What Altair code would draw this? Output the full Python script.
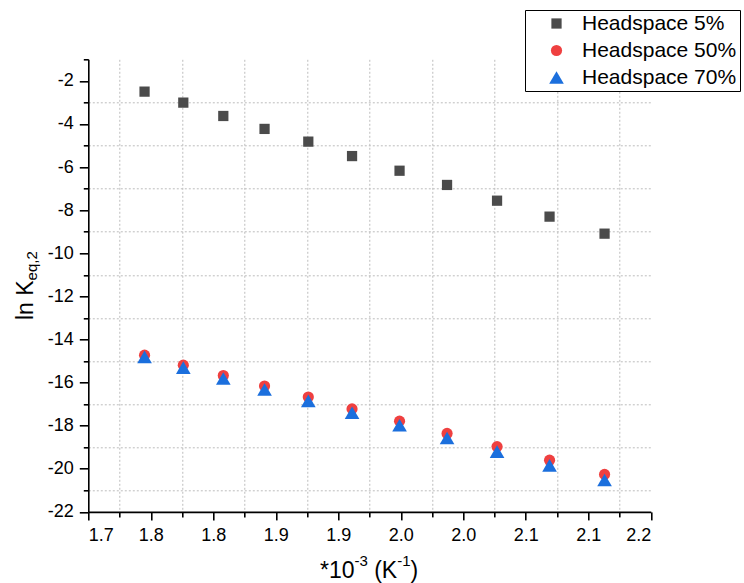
import altair as alt
import pandas as pd

# ---- data ----
x_vals = [1.745, 1.776, 1.808, 1.841, 1.876, 1.911, 1.949, 1.987, 2.027, 2.069, 2.113]
y_5 = [-2.50, -3.01, -3.63, -4.23, -4.82, -5.49, -6.17, -6.83, -7.56, -8.30, -9.09]
y_50 = [-14.73, -15.19, -15.67, -16.16, -16.67, -17.22, -17.79, -18.36, -18.97, -19.60, -20.26]
y_70 = [-14.81, -15.31, -15.81, -16.32, -16.85, -17.40, -17.98, -18.57, -19.20, -19.84, -20.52]

series_names = ["Headspace 5%", "Headspace 50%", "Headspace 70%"]
series_colors = ["#4b4b4b", "#ef4040", "#1b6fdd"]
series_shapes = ["square", "circle", "triangle-up"]
series_sizes = [105, 125, 215]

x_major = [1.70, 1.75, 1.80, 1.85, 1.90, 1.95, 2.00, 2.05, 2.10, 2.15]
x_minor = [1.725, 1.775, 1.825, 1.875, 1.925, 1.975, 2.025, 2.075, 2.125]
y_major = [-22, -20, -18, -16, -14, -12, -10, -8, -6, -4, -2]
y_minor = [-21, -19, -17, -15, -13, -11, -9, -7, -5, -3, -1]

rows = []
for name, ys in zip(series_names, [y_5, y_50, y_70]):
    for xv, yv in zip(x_vals, ys):
        rows.append({"x": xv, "y": yv, "series": name})
df = pd.DataFrame(rows)

FONT = "Liberation Sans"
W, H = 562.5, 452.6
PL, PT = 88.3, 59.3

xs = alt.Scale(domain=[1.70, 2.15], nice=False, zero=False)
ys = alt.Scale(domain=[-22, -1], nice=False, zero=False)

minor_x_axis = alt.Axis(orient="bottom", values=x_minor, labels=False, title=None,
                        domain=False, ticks=True, tickSize=5, tickWidth=1.6, tickColor="black",
                        grid=True, gridColor="#bdbdbd", gridDash=[2, 2], gridWidth=1)
minor_y_axis = alt.Axis(orient="left", values=y_minor, labels=False, title=None,
                        domain=False, ticks=True, tickSize=5, tickWidth=1.6, tickColor="black",
                        grid=True, gridColor="#bdbdbd", gridDash=[2, 2], gridWidth=1,
                        gridOpacity={"condition": {"test": "datum.value > -1.5", "value": 0}, "value": 1})

major_x_axis = alt.Axis(orient="bottom", values=x_major, title=None, grid=False,
                        labelExpr="format(datum.value + 1e-9, '.1f')",
                        labelFont=FONT, labelFontSize=18, labelColor="black", labelPadding=7,
                        domainColor="black", domainWidth=1.6, tickColor="black",
                        tickSize=8, tickWidth=1.6)
major_y_axis = alt.Axis(orient="left", values=y_major, title=None, grid=False,
                        labelExpr="datum.value + ''",
                        labelFont=FONT, labelFontSize=18, labelColor="black", labelPadding=6,
                        domainColor="black", domainWidth=1.6, tickColor="black",
                        tickSize=9, tickWidth=1.6)

legend = alt.Legend(orient="none", legendX=436.7, legendY=-49.3, title=None,
                    labelFont=FONT, labelFontSize=21, labelColor="black",
                    strokeColor="black", fillColor="white", padding=3,
                    symbolOffset=18, labelOffset=15, rowPadding=5,
                    symbolStrokeWidth=0, symbolOpacity=1)

grid_layer = alt.Chart(df).mark_point(opacity=0).encode(
    x=alt.X("x:Q", scale=xs, axis=minor_x_axis),
    y=alt.Y("y:Q", scale=ys, axis=minor_y_axis),
)

points = alt.Chart(df).mark_point(filled=True, opacity=1, strokeWidth=0).encode(
    x=alt.X("x:Q", scale=xs, axis=major_x_axis),
    y=alt.Y("y:Q", scale=ys, axis=major_y_axis),
    color=alt.Color("series:N", scale=alt.Scale(domain=series_names, range=series_colors), legend=legend),
    shape=alt.Shape("series:N", scale=alt.Scale(domain=series_names, range=series_shapes), legend=legend),
    size=alt.Size("series:N", scale=alt.Scale(type="ordinal", domain=series_names, range=series_sizes),
                  legend=legend),
    order=alt.Order("series:N"),
)

one = pd.DataFrame({"a": [0]})

def txt(text, x, y, size, angle=0):
    return alt.Chart(one).mark_text(
        text=text, font=FONT, fontSize=size, color="black", align="left",
        baseline="alphabetic", angle=angle
    ).encode(x=alt.value(x), y=alt.value(y))

# x-axis title: *10^-3 (K^-1)
x_title = [
    txt("*10", 231.7, 519, 23),
    txt("-3", 266.2, 507, 15),
    txt("(K", 285.9, 519, 23),
    txt("-1", 308.9, 507, 15),
    txt(")", 322.2, 519, 23),
]
# y-axis title: ln K_eq,2 (rotated)
y_title = [
    txt("ln K", -55.3, 260.7, 23, angle=270),
    txt("eq,2", -51.5, 221.1, 15, angle=270),
]

chart = alt.layer(grid_layer, points, *x_title, *y_title).resolve_axis(
    x="independent", y="independent"
).properties(
    width=W, height=H,
    autosize=alt.AutoSizeParams(type="none"),
    padding={"left": PL, "top": PT, "right": 744 - PL - W, "bottom": 583 - PT - H},
    background="white",
).configure_view(stroke=None)

chart.save("out.html", embed_options={"renderer": "svg", "actions": False})
